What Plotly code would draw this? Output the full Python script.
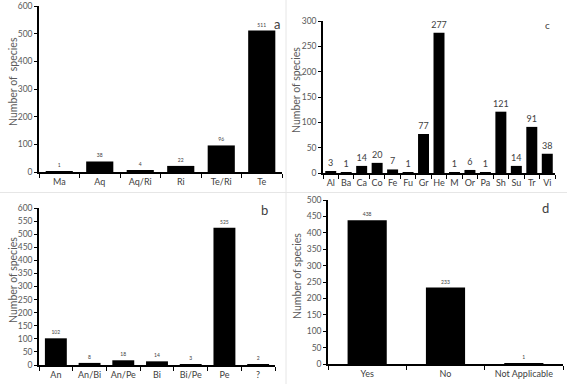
import plotly.graph_objects as go

W, H = 567, 384

# Panel a: habitat
a_cats = ["Ma", "Aq", "Aq/Ri", "Ri", "Te/Ri", "Te"]
a_vals = [1, 38, 4, 22, 96, 511]
# Panel b: life span
b_cats = ["An", "An/Bi", "An/Pe", "Bi", "Bi/Pe", "Pe", "?"]
b_vals = [102, 8, 18, 14, 3, 525, 2]
# Panel c: growth form
c_cats = ["Al", "Ba", "Ca", "Co", "Fe", "Fu", "Gr", "He", "M", "Or", "Pa", "Sh", "Su", "Tr", "Vi"]
c_vals = [3, 1, 14, 20, 7, 1, 77, 277, 1, 6, 1, 121, 14, 91, 38]
# Panel d
d_cats = ["Yes", "No", "Not Applicable"]
d_vals = [438, 233, 1]

FONT = "Lato"
GRAY = "#595959"


def px_x(x0, x1):
    return [x0 / W, x1 / W]


def px_y(ytop, ybot):
    return [1 - ybot / H, 1 - ytop / H]


fig = go.Figure()

panels = [
    (a_cats, a_vals, "", px_x(39, 282), px_y(6, 172), [0, 600], 100, 0.67, 5, "Number of  species", (13, 82)),
    (c_cats, c_vals, "2", px_x(323, 555), px_y(21, 173), [0, 300], 50, 0.71, 9, "Number of species", (296, 90)),
    (b_cats, b_vals, "3", px_x(39, 275), px_y(208, 365), [0, 600], 50, 0.65, 5, "Number of species", (13, 280)),
    (d_cats, d_vals, "4", px_x(328, 563), px_y(200, 364), [0, 500], 50, 0.5, 5, "Number of species", (297, 276)),
]

layout = {}
for cats, vals, sid, xdom, ydom, yr, dt, bw, lsize, ytitle, tpos in panels:
    tf = dict(size=lsize, color="#404040", family=FONT)
    fig.add_trace(go.Bar(
        x=cats, y=vals, xaxis="x" + sid, yaxis="y" + sid,
        width=bw, marker=dict(color="black", line=dict(width=0)),
        text=[str(v) for v in vals], textposition="outside",
        textfont=tf, outsidetextfont=tf, constraintext="none",
        cliponaxis=False, showlegend=False, hoverinfo="skip",
    ))
    layout["xaxis" + sid] = dict(
        domain=xdom, anchor="y" + sid, type="category", tickson="boundaries",
        ticks="outside", ticklen=4, tickcolor="black", tickwidth=1.2, tickangle=0,
        showline=True, linecolor="black", linewidth=1.5, showgrid=False, automargin=False,
        tickfont=dict(size=9, color="#404040", family=FONT), zeroline=False,
    )
    layout["yaxis" + sid] = dict(
        domain=ydom, anchor="x" + sid, range=yr, dtick=dt, automargin=False,
        ticks="outside", ticklen=3, tickcolor="black", tickwidth=1.2,
        showline=True, linecolor="black", linewidth=1.5, showgrid=False,
        zeroline=False, tickfont=dict(size=8.5, color=GRAY, family=FONT),
    )
    fig.add_annotation(text=ytitle, x=tpos[0] / W, y=1 - tpos[1] / H, xref="paper", yref="paper",
                       textangle=-90, showarrow=False, xanchor="center", yanchor="middle",
                       font=dict(size=10.5, color=GRAY, family=FONT))

fig.update_layout(
    width=W, height=H, margin=dict(l=0, r=0, t=0, b=0, autoexpand=False),
    paper_bgcolor="white", plot_bgcolor="white",
    **layout,
)

letters = [("a", 277, 14, 13), ("c", 552, 17, 10), ("b", 264, 210, 13), ("d", 551, 208, 13)]
for t, x, y, s in letters:
    fig.add_annotation(text=t, x=x / W, y=1 - y / H, xref="paper", yref="paper",
                       showarrow=False, font=dict(size=s, color="#404040", family=FONT))

# light panel separators
fig.add_shape(type="line", xref="paper", yref="paper", x0=286 / W, x1=286 / W, y0=0, y1=1,
              line=dict(color="#e6e6e6", width=1))
fig.add_shape(type="line", xref="paper", yref="paper", x0=0, x1=1, y0=1 - 192.5 / H, y1=1 - 192.5 / H,
              line=dict(color="#e6e6e6", width=1))

fig.write_html("out.html", config={"displayModeBar": False},
               post_script="document.body.style.margin='0';document.body.style.overflow='hidden';")
